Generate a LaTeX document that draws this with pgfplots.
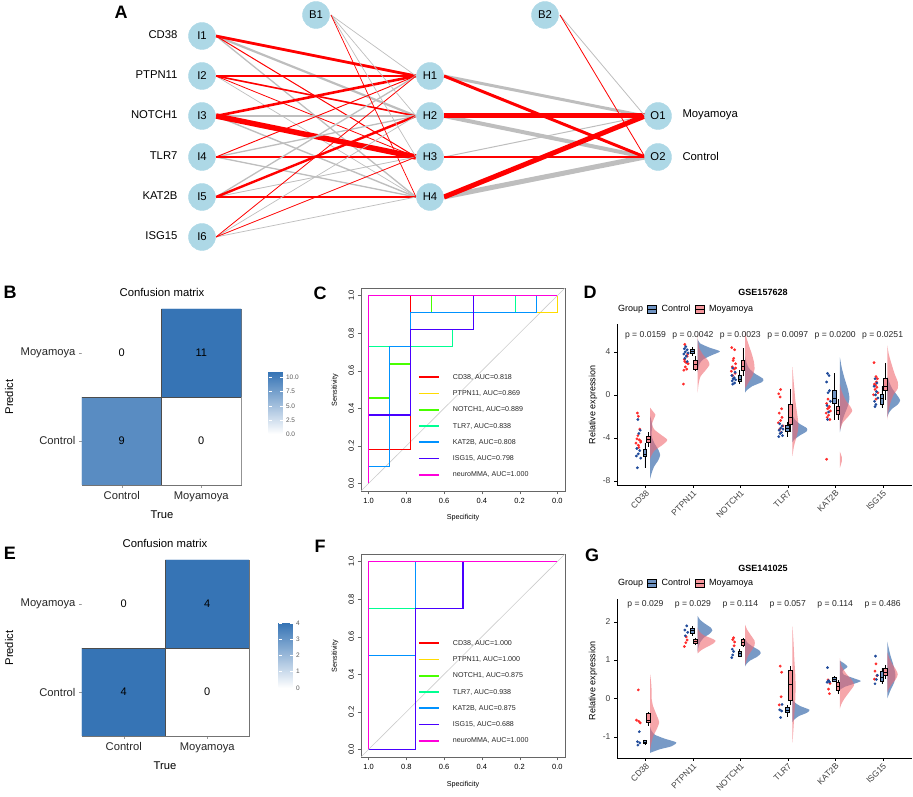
\documentclass[border=0pt]{standalone}
\usepackage{pgfplots}
\pgfplotsset{compat=1.18}
\usepgfplotslibrary{statistics}
\usepackage{fontspec}
\setmainfont{Liberation Sans}
\setsansfont{Liberation Sans}
\newcommand{\fs}[1]{\fontsize{#1}{#1}\selectfont}

\definecolor{nodeblue}{HTML}{ADD8E6}
\definecolor{edgegray}{HTML}{BEBEBE}
\definecolor{ctrl}{HTML}{3F6FAE}
\definecolor{mma}{HTML}{F06A72}
\definecolor{dotred}{HTML}{FF2A2A}
\definecolor{dotblue}{HTML}{1F4A9A}
\definecolor{r1}{HTML}{FF0000}
\definecolor{r2}{HTML}{FFDB00}
\definecolor{r3}{HTML}{49FF00}
\definecolor{r4}{HTML}{00FF92}
\definecolor{r5}{HTML}{0092FF}
\definecolor{r6}{HTML}{4900FF}
\definecolor{r7}{HTML}{FF00DB}

\pgfplotsset{
  /pgf/number format/assume math mode=true,
  canvas/.style={at={(0pt,0pt)}, anchor=south west, scale only axis, width=913pt, height=797pt,
    xmin=0, xmax=913, ymin=0, ymax=797, y dir=reverse, hide axis, clip=false},
  vctrl/.style={fill=ctrl, fill opacity=0.7, draw=none, smooth, tension=0.4, forget plot},
  vmma/.style={fill=mma, fill opacity=0.6, draw=none, smooth, tension=0.4, forget plot},
  dr/.style={only marks, mark=*, mark size=1.2pt, color=dotred, forget plot},
  db/.style={only marks, mark=*, mark size=1.2pt, color=dotblue, forget plot},
  rl/.style={#1, line width=1.2pt},
  ll/.style={#1, line width=1.8pt},
  roc/.style={at={#1}, anchor=south west, scale only axis, width=204pt, height=203pt,
    x dir=reverse, xmin=-0.04, xmax=1.04, ymin=-0.04, ymax=1.04,
    xtick={0,0.2,0.4,0.6,0.8,1}, ytick={0,0.2,0.4,0.6,0.8,1},
    /pgf/number format/fixed, /pgf/number format/fixed zerofill, /pgf/number format/precision=1,
    tick label style={font=\fs{7.5}},
    yticklabel style={rotate=90, anchor=south},
    xtick pos=bottom, ytick pos=left, tick align=outside, major tick length=3.5pt,
    axis line style={black!60}, tick style={black!60}},
  rain/.style={anchor=south west, scale only axis, width=295pt,
    xmin=0.4, xmax=6.62, axis lines*=left, axis line style={black, line width=0.5pt},
    xtick={1,...,6}, xticklabels={CD38,PTPN11,NOTCH1,TLR7,KAT2B,ISG15},
    xticklabel style={rotate=45, anchor=north east, inner sep=1pt},
    tick label style={font=\fs{8.5}, text=black!75},
    tick align=outside, major tick length=3pt, tick style={black},
    legend columns=-1,
    legend style={draw=none, fill=none, inner sep=0pt, anchor=west, xshift=-4pt, font=\fs{9},
      /tikz/every odd column/.append style={column sep=3pt},
      /tikz/every even column/.append style={column sep=2pt}},
    legend image code/.code={\draw[##1, draw=black, line width=0.4pt] (0pt,-4pt) rectangle (9pt,4pt);
      \draw[black, line width=0.4pt] (0pt,0pt) -- (9pt,0pt);}},
  cmat/.style={anchor=south west, scale only axis,
    xmin=-0.5, xmax=1.5, ymin=-0.5, ymax=1.5, enlargelimits=false,
    xtick={0,1}, xticklabels={Control,Moyamoya}, ytick={0,1}, yticklabels={Control,Moyamoya},
    tick label style={font=\fs{11.2}, text=black!85},
    xtick pos=bottom, ytick pos=left, tick align=outside, major tick length=3pt,
    tick style={black!40}, axis line style={black!55, line width=0.6pt},
    colormap={blu}{rgb255=(255,255,255) rgb255=(54,116,181)}, point meta min=0},
}
\newcommand{\edge}[4]{\addplot[#1, line width=#2] coordinates {#3 #4};}
\newcommand{\bx}[7]{\addplot[boxplot/draw direction=y, boxplot prepared={draw position=#2, lower whisker=#3,
  lower quartile=#4, median=#5, upper quartile=#6, upper whisker=#7,
  box extend=0.075, whisker extend=0}, draw=black, line width=0.45pt, fill=#1,
  fill opacity=0.75, forget plot] coordinates {};}

\begin{document}
\begin{tikzpicture}
\useasboundingbox (0,0) rectangle (913pt,797pt);

% ================= canvas axis: panel A network (pixel units)
\begin{axis}[canvas]
% I1
\edge{edgegray}{2.2pt}{(216,36)}{(416,116)}
\edge{edgegray}{1.3pt}{(216,36)}{(416,197)}
\edge{red}{2.8pt}{(216,36)}{(416,76)}
\edge{red}{1.0pt}{(216,36)}{(416,157)}
% I2
\edge{edgegray}{0.7pt}{(216,76)}{(416,197)}
\edge{red}{1.2pt}{(216,76)}{(416,76)}
\edge{red}{1.6pt}{(216,76)}{(416,116)}
\edge{red}{0.8pt}{(216,76)}{(416,157)}
% I3
\edge{edgegray}{2.4pt}{(216,116)}{(416,116)}
\edge{edgegray}{1.4pt}{(216,116)}{(416,197)}
\edge{red}{2.6pt}{(216,116)}{(416,76)}
\edge{red}{5.5pt}{(216,116)}{(416,157)}
% I4
\edge{edgegray}{1.3pt}{(216,157)}{(416,116)}
\edge{edgegray}{1.3pt}{(216,157)}{(416,197)}
\edge{red}{0.9pt}{(216,157)}{(416,76)}
\edge{red}{1.1pt}{(216,157)}{(416,157)}
% I5
\edge{edgegray}{1.3pt}{(216,197)}{(416,76)}
\edge{edgegray}{0.8pt}{(216,197)}{(416,157)}
\edge{red}{2.4pt}{(216,197)}{(416,116)}
\edge{red}{2.4pt}{(216,197)}{(416,197)}
% I6
\edge{edgegray}{0.7pt}{(216,237)}{(416,116)}
\edge{edgegray}{0.7pt}{(216,237)}{(416,197)}
\edge{red}{0.8pt}{(216,237)}{(416,76)}
\edge{red}{0.8pt}{(216,237)}{(416,157)}
% B1
\edge{edgegray}{0.7pt}{(331,15)}{(416,76)}
\edge{edgegray}{0.7pt}{(331,15)}{(416,116)}
\edge{edgegray}{0.7pt}{(331,15)}{(416,157)}
\edge{red}{0.7pt}{(331,15)}{(416,197)}
% hidden -> output
\edge{edgegray}{3pt}{(444,76)}{(645,116)}
\edge{edgegray}{4pt}{(444,116)}{(645,157)}
\edge{edgegray}{1pt}{(444,157)}{(645,116)}
\edge{edgegray}{5pt}{(444,197)}{(645,157)}
\edge{red}{3pt}{(444,76)}{(645,157)}
\edge{red}{5pt}{(444,116)}{(645,116)}
\edge{red}{2pt}{(444,157)}{(645,157)}
\edge{red}{5pt}{(444,197)}{(645,116)}
% B2
\edge{edgegray}{0.8pt}{(560,15)}{(645,116)}
\edge{red}{0.8pt}{(560,15)}{(645,157)}
% nodes
\addplot[only marks, mark=*, mark size=13.5pt, color=nodeblue]
  coordinates {(202,36) (202,76) (202,116) (202,157) (202,197) (202,237)
               (316,15) (430,76) (430,116) (430,157) (430,197) (545,15) (658,116) (658,157)};
\end{axis}

% ================= canvas overlay: all free text (pixel units)
\begin{axis}[canvas]
\begin{scope}[every node/.style={font=\fs{11.3}}]
\node at (axis cs:202,36) {I1}; \node at (axis cs:202,76) {I2};
\node at (axis cs:202,116) {I3}; \node at (axis cs:202,157) {I4};
\node at (axis cs:202,197) {I5}; \node at (axis cs:202,237) {I6};
\node at (axis cs:316,15) {B1}; \node at (axis cs:545,15) {B2};
\node at (axis cs:430,76) {H1}; \node at (axis cs:430,116) {H2};
\node at (axis cs:430,157) {H3}; \node at (axis cs:430,197) {H4};
\node at (axis cs:658,116) {O1}; \node at (axis cs:658,157) {O2};
\node[anchor=east] at (axis cs:181,35) {CD38};
\node[anchor=east] at (axis cs:181,75) {PTPN11};
\node[anchor=east] at (axis cs:181,115) {NOTCH1};
\node[anchor=east] at (axis cs:181,156) {TLR7};
\node[anchor=east] at (axis cs:181,196) {KAT2B};
\node[anchor=east] at (axis cs:181,236) {ISG15};
\node[anchor=west] at (axis cs:679,115) {Moyamoya};
\node[anchor=west] at (axis cs:679,156) {Control};
\end{scope}
\begin{scope}[every node/.style={font=\fs{18}\bfseries}]
\node at (axis cs:121,12) {A};
\node at (axis cs:10,292) {B}; \node at (axis cs:320,293) {C}; \node at (axis cs:590,292) {D};
\node at (axis cs:10,553) {E}; \node at (axis cs:320,546) {F}; \node at (axis cs:592,555) {G};
\end{scope}
\node[font=\fs{11.3}] at (axis cs:162,292) {Confusion matrix};
\node[font=\fs{11.3}] at (axis cs:165,543) {Confusion matrix};
\node[font=\fs{11.2}, rotate=90] at (axis cs:9,397) {Predict};
\node[font=\fs{11.2}, rotate=90] at (axis cs:9,648) {Predict};
\node[font=\fs{11.2}] at (axis cs:162,515) {True};
\node[font=\fs{11.2}] at (axis cs:165,766) {True};
\node[font=\fs{7.2}, rotate=90] at (axis cs:335,390) {Sensitivity};
\node[font=\fs{7.2}, rotate=90] at (axis cs:335,656) {Sensitivity};
\node[font=\fs{7.2}] at (axis cs:463,518) {Specificity};
\node[font=\fs{7.2}] at (axis cs:463,785) {Specificity};
\node[font=\fs{9}, rotate=90] at (axis cs:593,405) {Relative expression};
\node[font=\fs{9}, rotate=90] at (axis cs:593,681) {Relative expression};
\node[font=\fs{9}\bfseries] at (axis cs:763,292) {GSE157628};
\node[font=\fs{9}\bfseries] at (axis cs:763,568) {GSE141025};
\end{axis}

% ================= B: confusion matrix (training)
\begin{axis}[cmat, at={(82pt,312pt)}, width=159pt, height=176pt, point meta max=11,
  colorbar, colorbar style={at={(parent axis.east)}, anchor=west, xshift=19pt, yshift=-6pt,
    scale only axis, width=14pt, height=62pt, ytick={0,2.5,5,7.5,10},
    /pgf/number format/fixed, /pgf/number format/fixed zerofill, /pgf/number format/precision=1,
    yticklabel style={font=\fs{6.5}, text=black!65}, axis line style={draw=none},
    tick align=inside, major tick length=3pt, major tick style={white, line width=0.5pt}}]
\addplot[matrix plot*, mesh/cols=2, point meta=explicit] coordinates {(0,0) [9] (1,0) [0] (0,1) [0] (1,1) [11]};
\addplot[black!70, line width=0.6pt] coordinates {(0.5,-0.5) (0.5,1.5)};
\addplot[black!70, line width=0.6pt] coordinates {(-0.5,0.5) (1.5,0.5)};
\node[font=\fs{11}] at (axis cs:0,1) {0}; \node[font=\fs{11}] at (axis cs:1,1) {11};
\node[font=\fs{11}] at (axis cs:0,0) {9}; \node[font=\fs{11}] at (axis cs:1,0) {0};
\end{axis}

% ================= E: confusion matrix (validation)
\begin{axis}[cmat, at={(82pt,61pt)}, width=167pt, height=176pt, point meta max=4,
  colorbar, colorbar style={at={(parent axis.east)}, anchor=west, xshift=21pt, yshift=-7.5pt,
    scale only axis, width=14pt, height=65pt, ytick={0,1,2,3,4},
    yticklabel style={font=\fs{6.5}, text=black!65}, axis line style={draw=none},
    tick align=inside, major tick length=3pt, major tick style={white, line width=0.5pt}}]
\addplot[matrix plot*, mesh/cols=2, point meta=explicit] coordinates {(0,0) [4] (1,0) [0] (0,1) [0] (1,1) [4]};
\addplot[black!70, line width=0.6pt] coordinates {(0.5,-0.5) (0.5,1.5)};
\addplot[black!70, line width=0.6pt] coordinates {(-0.5,0.5) (1.5,0.5)};
\node[font=\fs{11}] at (axis cs:0,1) {0}; \node[font=\fs{11}] at (axis cs:1,1) {4};
\node[font=\fs{11}] at (axis cs:0,0) {4}; \node[font=\fs{11}] at (axis cs:1,0) {0};
\end{axis}

% ================= C: ROC (training)
\begin{axis}[roc={(361pt,306pt)}]
\addplot[black!20, line width=0.6pt] coordinates {(1.04,-0.04) (-0.04,1.04)};
\addplot[rl=r1] coordinates {(1,0) (1,0.182) (0.778,0.182) (0.778,1) (0,1)};
\addplot[rl=r2] coordinates {(1,0) (1,0.364) (0.778,0.364) (0.778,0.909) (0,0.909) (0,1)};
\addplot[rl=r3] coordinates {(1,0) (1,0.455) (0.889,0.455) (0.889,0.636) (0.778,0.636) (0.778,0.909) (0.667,0.909) (0.667,1) (0,1)};
\addplot[rl=r4] coordinates {(1,0) (1,0.727) (0.556,0.727) (0.556,0.818) (0.444,0.818) (0.444,0.909) (0.222,0.909) (0.222,1) (0,1)};
\addplot[rl=r5] coordinates {(1,0) (1,0.091) (0.889,0.091) (0.889,0.727) (0.778,0.727) (0.778,0.909) (0.111,0.909) (0.111,1) (0,1)};
\addplot[rl=r6] coordinates {(1,0) (1,0.364) (0.778,0.364) (0.778,0.818) (0.444,0.818) (0.444,1) (0,1)};
\addplot[rl=r7] coordinates {(1,0) (1,1) (0,1)};
\addplot[ll=r1] coordinates {(0.733,0.565) (0.626,0.565)};
\addplot[ll=r2] coordinates {(0.733,0.4785) (0.626,0.4785)};
\addplot[ll=r3] coordinates {(0.733,0.392) (0.626,0.392)};
\addplot[ll=r4] coordinates {(0.733,0.3055) (0.626,0.3055)};
\addplot[ll=r5] coordinates {(0.733,0.219) (0.626,0.219)};
\addplot[ll=r6] coordinates {(0.733,0.1325) (0.626,0.1325)};
\addplot[ll=r7] coordinates {(0.733,0.046) (0.626,0.046)};
\begin{scope}[every node/.style={font=\fs{7.1}, anchor=west, text=black!85}]
\node at (axis cs:0.572,0.565) {CD38, AUC=0.818};
\node at (axis cs:0.572,0.4785) {PTPN11, AUC=0.869};
\node at (axis cs:0.572,0.392) {NOTCH1, AUC=0.889};
\node at (axis cs:0.572,0.3055) {TLR7, AUC=0.838};
\node at (axis cs:0.572,0.219) {KAT2B, AUC=0.808};
\node at (axis cs:0.572,0.1325) {ISG15, AUC=0.798};
\node at (axis cs:0.572,0.046) {neuroMMA, AUC=1.000};
\end{scope}
\end{axis}

% ================= F: ROC (validation)
\begin{axis}[roc={(361pt,40pt)}]
\addplot[black!20, line width=0.6pt] coordinates {(1.04,-0.04) (-0.04,1.04)};
\addplot[rl=r1] coordinates {(1,0) (1,1) (0,1)};
\addplot[rl=r2] coordinates {(1,0) (1,1) (0,1)};
\addplot[rl=r3] coordinates {(1,0) (1,0.5) (0.75,0.5) (0.75,1) (0,1)};
\addplot[rl=r4] coordinates {(1,0) (1,0.75) (0.75,0.75) (0.75,1) (0,1)};
\addplot[rl=r5] coordinates {(1,0) (1,0.5) (0.75,0.5) (0.75,1) (0,1)};
\addplot[rl=r6] coordinates {(1,0) (0.75,0) (0.75,0.75) (0.5,0.75) (0.5,1) (0,1)};
\addplot[rl=r7] coordinates {(1,0) (1,1) (0,1)};
\addplot[ll=r1] coordinates {(0.733,0.565) (0.626,0.565)};
\addplot[ll=r2] coordinates {(0.733,0.4785) (0.626,0.4785)};
\addplot[ll=r3] coordinates {(0.733,0.392) (0.626,0.392)};
\addplot[ll=r4] coordinates {(0.733,0.3055) (0.626,0.3055)};
\addplot[ll=r5] coordinates {(0.733,0.219) (0.626,0.219)};
\addplot[ll=r6] coordinates {(0.733,0.1325) (0.626,0.1325)};
\addplot[ll=r7] coordinates {(0.733,0.046) (0.626,0.046)};
\begin{scope}[every node/.style={font=\fs{7.1}, anchor=west, text=black!85}]
\node at (axis cs:0.572,0.565) {CD38, AUC=1.000};
\node at (axis cs:0.572,0.4785) {PTPN11, AUC=1.000};
\node at (axis cs:0.572,0.392) {NOTCH1, AUC=0.875};
\node at (axis cs:0.572,0.3055) {TLR7, AUC=0.938};
\node at (axis cs:0.572,0.219) {KAT2B, AUC=0.875};
\node at (axis cs:0.572,0.1325) {ISG15, AUC=0.688};
\node at (axis cs:0.572,0.046) {neuroMMA, AUC=1.000};
\end{scope}
\end{axis}

% ================= D: raincloud GSE157628
\begin{axis}[rain, at={(617pt,312pt)}, height=161pt, ymin=-8.4, ymax=6.6, ytick={-8,-4,0,4},
  legend style={at={(0,1.093)}}]
\addlegendimage{empty legend}\addlegendentry{Group}
\addlegendimage{fill=ctrl, fill opacity=0.75}\addlegendentry{Control}
\addlegendimage{fill=mma, fill opacity=0.7}\addlegendentry{Moyamoya}
\addplot[vctrl] coordinates {(1.1,-2.0) (1.13,-2.5) (1.14,-3.0) (1.13,-3.5) (1.14,-4.0) (1.2,-4.6) (1.27,-5.1) (1.31,-5.6) (1.27,-6.1) (1.18,-6.7) (1.13,-7.3) (1.1,-7.8)} -- cycle;
\addplot[vmma] coordinates {(1.1,-1.2) (1.15,-1.5) (1.21,-1.85) (1.18,-2.2) (1.14,-2.7) (1.18,-3.2) (1.32,-3.7) (1.46,-4.2) (1.35,-4.7) (1.19,-5.2) (1.11,-5.8) (1.1,-6.0)} -- cycle;
\addplot[vctrl] coordinates {(2.1,5.2) (2.15,4.8) (2.35,4.4) (2.57,4.05) (2.4,3.7) (2.22,3.3) (2.14,2.9) (2.11,2.4) (2.1,2.1)} -- cycle;
\addplot[vmma] coordinates {(2.1,5.7) (2.11,5.0) (2.14,4.3) (2.22,3.7) (2.32,3.2) (2.35,2.8) (2.27,2.3) (2.16,1.7) (2.12,1.0) (2.1,0.2)} -- cycle;
\addplot[vctrl] coordinates {(3.1,3.6) (3.13,3.0) (3.18,2.5) (3.3,2.0) (3.48,1.5) (3.46,1.2) (3.25,0.8) (3.13,0.4) (3.1,0.2)} -- cycle;
\addplot[vmma] coordinates {(3.1,6.0) (3.13,5.3) (3.19,4.5) (3.25,3.7) (3.29,3.0) (3.3,2.4) (3.26,1.8) (3.18,1.2) (3.1,0.6)} -- cycle;
\addplot[vctrl] coordinates {(4.1,-1.9) (4.15,-2.3) (4.25,-2.7) (4.4,-3.1) (4.4,-3.4) (4.25,-3.8) (4.13,-4.2) (4.1,-4.4)} -- cycle;
\addplot[vmma] coordinates {(4.1,2.6) (4.12,1.5) (4.14,0.5) (4.16,-0.5) (4.19,-1.5) (4.22,-2.5) (4.22,-3.2) (4.18,-4.0) (4.13,-4.8) (4.1,-5.7)} -- cycle;
\addplot[vctrl] coordinates {(5.1,3.5) (5.14,2.5) (5.2,1.5) (5.27,0.5) (5.3,-0.3) (5.27,-1.0) (5.2,-1.8) (5.14,-2.6) (5.1,-3.5)} -- cycle;
\addplot[vmma] coordinates {(5.1,1.0) (5.14,0.3) (5.22,-0.5) (5.32,-1.1) (5.36,-1.5) (5.28,-2.0) (5.16,-2.6) (5.1,-3.3)} -- cycle;
\addplot[vmma] coordinates {(5.1,-5.3) (5.14,-5.8) (5.14,-6.2) (5.1,-6.8)} -- cycle;
\addplot[vctrl] coordinates {(6.1,1.7) (6.14,1.2) (6.2,0.6) (6.3,0.0) (6.37,-0.5) (6.32,-0.9) (6.2,-1.3) (6.13,-1.7) (6.1,-2.1)} -- cycle;
\addplot[vmma] coordinates {(6.1,4.6) (6.13,3.8) (6.18,3.0) (6.25,2.0) (6.32,1.2) (6.32,0.6) (6.23,0.0) (6.16,-0.8) (6.12,-1.6) (6.1,-2.3)} -- cycle;
\addplot[dr] coordinates {(0.83,-1.7) (0.85,-2.0) (0.88,-3.2) (0.84,-3.8) (0.82,-4.1) (0.87,-4.2) (0.9,-4.3) (0.8,-4.5) (0.85,-4.7) (0.9,-4.4) (0.86,-4.9)
  (1.83,4.7) (1.88,3.6) (1.82,3.3) (1.86,3.0) (1.9,2.9) (1.84,2.6) (1.87,2.4) (1.81,2.3) (1.89,3.8) (1.83,3.1) (1.8,1.0)
  (2.82,4.4) (2.88,4.2) (2.85,3.2) (2.9,2.9) (2.83,2.6) (2.87,2.4) (2.81,2.2) (2.89,2.0) (2.84,1.8) (2.9,2.5) (2.86,3.4)
  (3.85,0.5) (3.81,0.1) (3.84,-0.2) (3.87,-1.3) (3.82,-1.7) (3.88,-2.1) (3.85,-2.4) (3.9,-2.9) (3.83,-3.2) (3.86,-3.5) (3.8,-2.6)
  (4.85,-0.4) (4.82,-0.8) (4.88,-1.1) (4.84,-1.3) (4.9,-1.5) (4.81,-1.7) (4.86,-1.9) (4.83,-2.1) (4.89,-2.3) (4.87,-1.2) (4.82,-6.0)
  (5.82,3.0) (5.86,1.7) (5.89,1.5) (5.83,1.0) (5.88,0.7) (5.84,0.5) (5.9,0.2) (5.81,0.0) (5.86,-0.4) (5.85,0.9) (5.87,1.2)};
\addplot[db] coordinates {(0.84,-2.3) (0.89,-3.3) (0.86,-3.6) (0.82,-5.0) (0.88,-5.2) (0.85,-5.5) (0.81,-5.7) (0.9,-5.9) (0.83,-6.8)
  (1.85,4.5) (1.82,4.3) (1.88,4.2) (1.84,4.0) (1.9,3.9) (1.81,3.8) (1.86,3.6) (1.83,3.4) (1.88,3.1)
  (2.84,2.5) (2.89,2.1) (2.82,1.8) (2.87,1.6) (2.85,1.5) (2.9,1.4) (2.83,1.3) (2.88,1.1) (2.84,1.0)
  (3.83,-2.7) (3.88,-2.9) (3.85,-3.1) (3.9,-3.2) (3.82,-3.3) (3.87,-3.5) (3.84,-3.6) (3.89,-3.8) (3.81,-3.9)
  (4.84,2.0) (4.87,1.8) (4.82,1.2) (4.88,0.4) (4.85,0.2) (4.9,-0.6) (4.83,-1.0) (4.86,-1.6) (4.84,-2.3)
  (5.84,1.5) (5.88,1.1) (5.82,0.8) (5.87,0.3) (5.85,0.0) (5.9,-0.3) (5.83,-0.6) (5.86,-0.9) (5.84,-1.1)};
\bx{ctrl}{0.985}{-6.8}{-5.75}{-5.5}{-5.1}{-4.5}
\bx{mma}{1.055}{-4.9}{-4.4}{-4.15}{-3.85}{-3.5}
\bx{ctrl}{1.985}{3.6}{3.88}{4.05}{4.25}{4.5}
\bx{mma}{2.055}{2.2}{2.4}{2.85}{3.2}{3.6}
\bx{ctrl}{2.985}{1.0}{1.3}{1.5}{1.8}{2.3}
\bx{mma}{3.055}{1.8}{2.25}{2.65}{3.2}{4.4}
\bx{ctrl}{3.985}{-3.9}{-3.4}{-3.1}{-2.8}{-2.5}
\bx{mma}{4.055}{-3.5}{-2.7}{-2.1}{-0.9}{0.5}
\bx{ctrl}{4.985}{-2.3}{-0.8}{-0.3}{0.4}{2.0}
\bx{mma}{5.055}{-2.3}{-1.85}{-1.4}{-1.1}{-0.4}
\bx{ctrl}{5.985}{-1.2}{-0.85}{-0.3}{0.1}{0.8}
\bx{mma}{6.055}{-0.5}{0.4}{0.8}{1.55}{3.0}
\begin{scope}[every node/.style={font=\fs{8.6}, text=black!85}]
\node at (axis cs:1,5.5) {p = 0.0159}; \node at (axis cs:2,5.5) {p = 0.0042};
\node at (axis cs:3,5.5) {p = 0.0023}; \node at (axis cs:4,5.5) {p = 0.0097};
\node at (axis cs:5,5.5) {p = 0.0200}; \node at (axis cs:6,5.5) {p = 0.0251};
\end{scope}
\end{axis}

% ================= G: raincloud GSE141025
\begin{axis}[rain, at={(617pt,39pt)}, height=159pt, ymin=-1.556, ymax=2.59, ytick={-1,0,1,2},
  legend style={at={(0,1.1)}}]
\addlegendimage{empty legend}\addlegendentry{Group}
\addlegendimage{fill=ctrl, fill opacity=0.75}\addlegendentry{Control}
\addlegendimage{fill=mma, fill opacity=0.7}\addlegendentry{Moyamoya}
\addplot[vctrl] coordinates {(1.1,-0.75) (1.13,-0.85) (1.2,-0.95) (1.4,-1.05) (1.65,-1.15) (1.55,-1.25) (1.3,-1.33) (1.1,-1.42)} -- cycle;
\addplot[vmma] coordinates {(1.1,0.62) (1.12,0.4) (1.13,0.2) (1.13,0.0) (1.16,-0.2) (1.24,-0.45) (1.29,-0.62) (1.24,-0.8) (1.16,-1.0) (1.12,-1.2) (1.1,-1.35)} -- cycle;
\addplot[vctrl] coordinates {(2.1,2.15) (2.15,2.05) (2.25,1.95) (2.37,1.85) (2.41,1.77) (2.35,1.68) (2.23,1.58) (2.15,1.45) (2.11,1.3) (2.1,1.2)} -- cycle;
\addplot[vmma] coordinates {(2.1,1.85) (2.13,1.75) (2.22,1.65) (2.38,1.57) (2.48,1.5) (2.42,1.42) (2.28,1.33) (2.17,1.25) (2.1,1.17)} -- cycle;
\addplot[vctrl] coordinates {(3.1,1.55) (3.15,1.45) (3.26,1.35) (3.4,1.25) (3.43,1.17) (3.35,1.08) (3.2,0.98) (3.12,0.88) (3.1,0.83)} -- cycle;
\addplot[vmma] coordinates {(3.1,1.92) (3.14,1.8) (3.22,1.65) (3.3,1.5) (3.3,1.38) (3.24,1.25) (3.16,1.1) (3.12,0.95) (3.1,0.85)} -- cycle;
\addplot[vctrl] coordinates {(4.1,0.0) (4.14,-0.1) (4.26,-0.2) (4.46,-0.3) (4.4,-0.38) (4.24,-0.46) (4.14,-0.55) (4.1,-0.62)} -- cycle;
\addplot[vmma] coordinates {(4.1,1.87) (4.12,1.5) (4.14,1.0) (4.16,0.6) (4.165,0.3) (4.16,0.0) (4.14,-0.4) (4.12,-0.8) (4.1,-1.15)} -- cycle;
\addplot[vctrl] coordinates {(5.1,0.98) (5.2,0.9) (5.26,0.82) (5.16,0.72) (5.18,0.62) (5.4,0.52) (5.54,0.45) (5.4,0.38) (5.2,0.3) (5.1,0.22)} -- cycle;
\addplot[vmma] coordinates {(5.1,1.05) (5.13,0.85) (5.23,0.65) (5.35,0.48) (5.4,0.35) (5.32,0.2) (5.2,0.0) (5.13,-0.15) (5.1,-0.27)} -- cycle;
\addplot[vctrl] coordinates {(6.1,1.48) (6.13,1.3) (6.17,1.1) (6.22,0.9) (6.26,0.7) (6.27,0.55) (6.24,0.4) (6.18,0.25) (6.13,0.1) (6.1,0.0)} -- cycle;
\addplot[vmma] coordinates {(6.1,1.2) (6.14,1.05) (6.2,0.9) (6.28,0.75) (6.32,0.63) (6.28,0.5) (6.2,0.38) (6.13,0.25) (6.1,0.15)} -- cycle;
\addplot[dr] coordinates {(0.85,0.22) (0.81,-0.57) (0.86,-0.6) (0.89,-0.64)
  (1.86,1.6) (1.88,1.52) (1.85,1.45) (1.82,1.35)
  (2.86,1.58) (2.84,1.53) (2.88,1.47) (2.87,1.37)
  (3.84,0.84) (3.87,0.68) (3.86,0.04) (3.82,-0.17)
  (4.85,0.48) (4.89,0.39) (4.86,0.24) (4.88,0.12)
  (5.86,0.9) (5.84,0.71) (5.88,0.59) (5.83,0.5)};
\addplot[db] coordinates {(0.87,-0.87) (0.83,-1.13) (0.88,-1.16) (0.84,-1.22)
  (1.87,1.89) (1.83,1.78) (1.89,1.72) (1.84,1.63)
  (2.83,1.28) (2.86,1.22) (2.84,1.13) (2.82,1.06)
  (3.88,-0.16) (3.83,-0.3) (3.87,-0.33) (3.85,-0.5)
  (4.84,0.8) (4.86,0.46) (4.83,0.42) (4.88,0.43)
  (5.85,1.1) (5.87,0.49) (5.84,0.38) (5.89,0.6)};
\bx{ctrl}{0.985}{-1.22}{-1.175}{-1.145}{-1.1}{-1.08}
\bx{mma}{1.055}{-0.72}{-0.63}{-0.58}{-0.39}{-0.35}
\bx{ctrl}{1.985}{1.63}{1.7}{1.78}{1.84}{1.89}
\bx{mma}{2.055}{1.38}{1.43}{1.48}{1.53}{1.58}
\bx{ctrl}{2.985}{1.07}{1.11}{1.17}{1.24}{1.28}
\bx{mma}{3.055}{1.33}{1.38}{1.47}{1.55}{1.58}
\bx{ctrl}{3.985}{-0.48}{-0.36}{-0.31}{-0.24}{-0.17}
\bx{mma}{4.055}{-0.18}{-0.04}{0.36}{0.74}{0.84}
\bx{ctrl}{4.985}{0.42}{0.44}{0.5}{0.54}{0.58}
\bx{mma}{5.055}{0.12}{0.21}{0.32}{0.42}{0.48}
\bx{ctrl}{5.985}{0.38}{0.45}{0.55}{0.7}{0.8}
\bx{mma}{6.055}{0.5}{0.6}{0.67}{0.78}{0.88}
\begin{scope}[every node/.style={font=\fs{8.6}, text=black!85}]
\node at (axis cs:1,2.46) {p = 0.029}; \node at (axis cs:2,2.46) {p = 0.029};
\node at (axis cs:3,2.46) {p = 0.114}; \node at (axis cs:4,2.46) {p = 0.057};
\node at (axis cs:5,2.46) {p = 0.114}; \node at (axis cs:6,2.46) {p = 0.486};
\end{scope}
\end{axis}
\end{tikzpicture}
\end{document}
